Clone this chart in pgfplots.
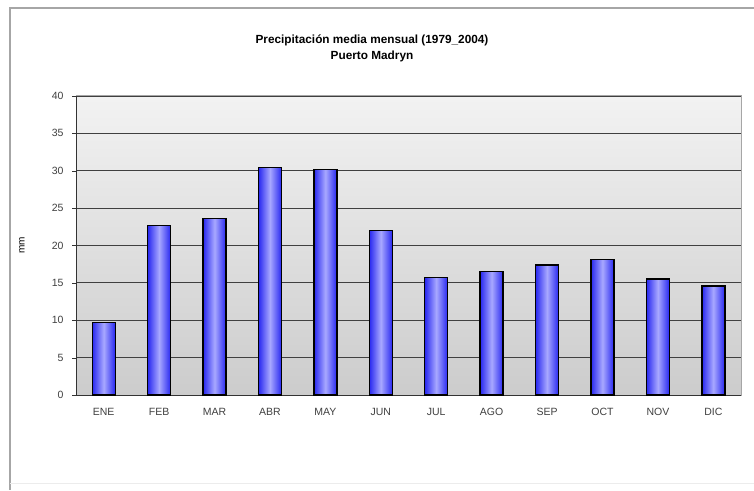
\documentclass[border=0pt]{standalone}
\usepackage{pgfplots}
\pgfplotsset{compat=1.18}
\usepackage{fontspec}
\setmainfont{Liberation Sans}
\definecolor{barEdge}{HTML}{2828F0}
\definecolor{barMid}{HTML}{A8A8FF}
\begin{document}
\begin{tikzpicture}[x=1pt,y=1pt]
\useasboundingbox (0,0) rectangle (754,490);
\fill[white] (0,0) rectangle (754,490);
\draw[gray!70, line width=2.5pt] (10,0) -- (10,482) -- (754,482);
\draw[gray!15, line width=1pt] (10,7) -- (754,7);
\node[font=\fontsize{11.8}{16}\selectfont\bfseries, align=center] at (372,441.5) {Precipitación media mensual (1979\_2004)\\Puerto Madryn};
\begin{axis}[
  scale only axis,
  width=665pt, height=299pt,
  at={(76pt,95pt)}, anchor=south west,
  xmin=-0.5, xmax=11.5, ymin=0, ymax=40,
  ytick={0,5,...,40},
  xtick={0,...,11},
  xticklabels={ENE,FEB,MAR,ABR,MAY,JUN,JUL,AGO,SEP,OCT,NOV,DIC},
  extra x ticks={-0.5,0.5,...,11.5},
  extra x tick labels={},
  extra x tick style={major tick length=4pt, tick style={black!80}, grid=none},
  x tick style={draw=none},
  y tick style={black!80},
  major tick length=4pt,
  tick align=outside,
  xtick pos=bottom, ytick pos=left,
  ymajorgrids,
  grid style={black!75, line width=0.8pt},
  axis line style={gray!70, line width=1pt},
  axis background/.style={top color=gray!10, bottom color=gray!40},
  ticklabel style={font=\fontsize{10.5}{12}\selectfont, text=black!75},
  yticklabel style={xshift=-5pt},
  /pgf/number format/assume math mode=true,
  ylabel={mm},
  ylabel style={font=\fontsize{9}{11}\selectfont, text=black!75},
  every axis y label/.style={at={(rel axis cs:0,0.5)}, anchor=center, rotate=90},
  y label style={yshift=54pt},
  xticklabel style={yshift=-6pt},
  clip=false,
  ybar, bar width=23pt, bar shift=0pt,
  mybar/.style={draw=black, line width=1.4pt,
    left color=barEdge, right color=barEdge, middle color=barMid},
]
\draw[black!80, line width=1pt] (axis cs:-0.5,0) -- (axis cs:-0.5,40);
\draw[black!80, line width=1pt] (axis cs:-0.5,0) -- (axis cs:11.5,0);
\addplot[mybar] coordinates {(0,9.7)};
\addplot[mybar] coordinates {(1,22.7)};
\addplot[mybar] coordinates {(2,23.6)};
\addplot[mybar] coordinates {(3,30.4)};
\addplot[mybar] coordinates {(4,30.2)};
\addplot[mybar] coordinates {(5,22.0)};
\addplot[mybar] coordinates {(6,15.7)};
\addplot[mybar] coordinates {(7,16.5)};
\addplot[mybar] coordinates {(8,17.4)};
\addplot[mybar] coordinates {(9,18.1)};
\addplot[mybar] coordinates {(10,15.5)};
\addplot[mybar] coordinates {(11,14.6)};
\end{axis}
\end{tikzpicture}
\end{document}
